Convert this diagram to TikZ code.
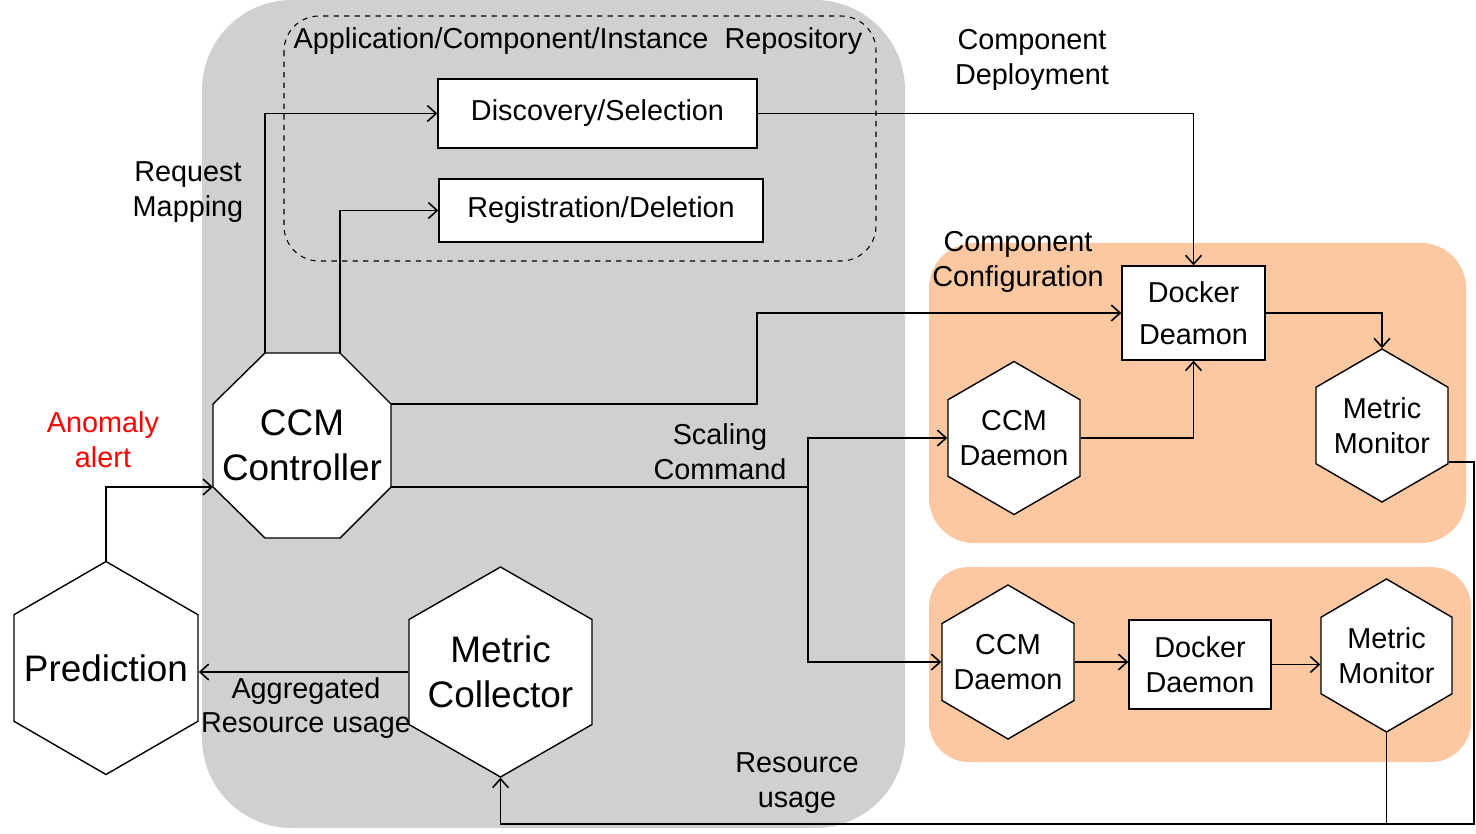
\documentclass[tikz,border=0pt]{standalone}
\usepackage{fontspec}
\setmainfont{Liberation Sans}
\usetikzlibrary{arrows.meta}
\definecolor{repogray}{RGB}{208,208,208}
\definecolor{hostorange}{RGB}{252,200,162}
\begin{document}
\begin{tikzpicture}
[x=0.02cm, y=-0.02cm, line width=0.8pt, draw=black,
font=\fontsize{16.4}{19.8}\selectfont,
>={Straight Barb[length=5pt, width=9pt]},
bigfont/.style={font=\fontsize{21}{25.5}\selectfont},
plainfont/.style={},
compbox/.style={rectangle, draw, fill=white, inner sep=0pt, align=center},
hexbox/.style={inner sep=0pt, align=center},
conn/.style={->, line width=0.9pt}]

\useasboundingbox (0,0) rectangle (1476,834);

% background regions
\fill[repogray, rounded corners=1.8cm] (202,0) rectangle (905,828);
\fill[hostorange, rounded corners=0.9cm] (929,243) rectangle (1466,543);
\fill[hostorange, rounded corners=0.8cm] (929,567) rectangle (1471,762);
\draw[dashed, line width=0.6pt, rounded corners=0.7cm] (284,16) rectangle (876,261);

\node (repo) at (578,41) {Application/Component/Instance~ Repository};

\node[compbox, minimum width=6.38cm, minimum height=1.38cm] (disc) at (597.5,113.5) {Discovery/Selection};
\node[compbox, minimum width=6.48cm, minimum height=1.26cm] (reg) at (601,210.5) {Registration/Deletion};
\node[compbox, minimum width=2.86cm, minimum height=1.88cm] (dockA) at (1193.5,313) {Docker\\[4pt]Deamon};
\node[compbox, minimum width=2.84cm, minimum height=1.78cm] (dockB) at (1200,664.5) {Docker\\Daemon};

% controller octagon
\draw[fill=white] (213,404) -- (265,353) coordinate (ccmtl) -- (340,353) coordinate (ccmtr)
  -- (391,404) coordinate (ccmrt) -- (391,487) coordinate (ccmrb) -- (340,538) -- (265,538)
  -- (213,487) coordinate (ccmlb) -- cycle;
\node[hexbox, bigfont, minimum width=3.56cm, minimum height=3.7cm] (ccm) at (302,445.5) {CCM\\Controller};

\foreach \n/\x/\y/\w/\h/\s/\t in {
  pred/106/668/184/213/bigfont/Prediction,
  coll/500.5/672/183/210/bigfont/{Metric\\Collector},
  ccmdA/1014/438/132/153/plainfont/{CCM\\Daemon},
  monA/1382/425.5/132/153/plainfont/{Metric\\Monitor},
  ccmdB/1008/662/132/154/plainfont/{CCM\\Daemon},
  monB/1386.5/655.5/131/153/plainfont/{Metric\\Monitor}} {
  \draw[fill=white] (\x,\y-\h/2) -- (\x+\w/2,\y-\h/4) -- (\x+\w/2,\y+\h/4)
    -- (\x,\y+\h/2) -- (\x-\w/2,\y+\h/4) -- (\x-\w/2,\y-\h/4) -- cycle;
  \node[hexbox, \s, minimum width=\w*0.02cm, minimum height=\h*0.02cm] (\n) at (\x,\y) {\t};
}

\node[align=center] (reqlbl) at (188,192) {Request\\Mapping};
\node[align=center] (deplbl) at (1032,60) {Component\\Deployment};
\node[align=center] (cfglbl) at (1018,262) {Component\\Configuration};
\node[align=center, text=red] (alertlbl) at (103,440) {Anomaly\\alert};
\node[align=center] (scalelbl) at (720,452) {Scaling\\Command};
\node[align=center] (agglbl) at (306,708) {Aggregated\\Resource usage};
\node[align=center] (uselbl) at (797,783) {Resource\\usage};

\coordinate (cfgbend) at (757,313);
\coordinate (scalebend) at (808,0);
\coordinate (loopcorner) at (1474,824);

\draw[conn] (pred.north) |- (ccmlb);
\draw[conn] (ccmtl) |- (disc.west);
\draw[conn] (ccmtr) |- (reg.west);
\draw[conn] (disc.east) -| (dockA.north);
\draw[conn] (ccmrt) -| (cfgbend) -- (dockA.west);
\draw[conn] (ccmrb) -| (scalebend |- ccmdA.west) -- (ccmdA.west);
\draw[conn] (scalebend |- ccmrb) |- (ccmdB.west);
\draw[conn] (ccmdA.east) -| (dockA.south);
\draw[conn] (dockA.east) -| (monA.north);
\draw[conn] (ccmdB.east) -- (ccmdB.east -| dockB.west);
\draw[conn] (dockB.east) -- (dockB.east -| monB.west);
\draw[conn] ([yshift=-20.7pt]monA.east) -| (loopcorner) -| (coll.south);
\draw[line width=0.9pt] (monB.south) -- (monB.south |- loopcorner);
\draw[conn] (coll.west) -- (coll.west -| pred.east);
\end{tikzpicture}
\end{document}
